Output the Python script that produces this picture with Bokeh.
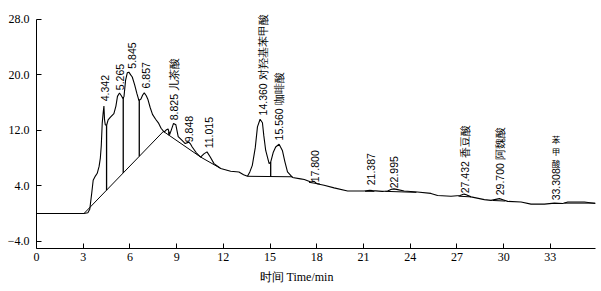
import numpy as np
from bokeh.plotting import figure
from bokeh.models import Range1d, FixedTicker, CustomJSTickFormatter, Title
from bokeh.core.properties import value
from bokeh.embed import file_html
from bokeh.resources import INLINE

# ---- chromatogram trace (time in min, signal) ----
t = [0, 3.05, 3.3, 3.42, 3.55, 3.64, 3.78, 3.9, 4.02, 4.1, 4.16, 4.22, 4.28, 4.33, 4.37,
     4.42, 4.5, 4.6, 4.75, 4.97, 5.1, 5.2, 5.33, 5.45, 5.55, 5.62, 5.72, 5.83, 5.93, 6.05,
     6.15, 6.3, 6.45, 6.58, 6.7, 6.82, 6.92, 7.05, 7.15, 7.3, 7.45, 7.65, 7.85, 8.0, 8.2,
     8.35, 8.45, 8.55, 8.65, 8.8, 8.95, 9.1, 9.35, 9.55, 9.78, 9.9, 10.0, 10.25, 10.54,
     10.75, 10.95, 11.15, 11.4, 11.83, 12.47, 13.0, 13.3, 13.55, 13.7, 13.86, 14.05, 14.19,
     14.36, 14.51, 14.6, 14.72, 14.94, 15.04, 15.2, 15.36, 15.58, 15.79, 15.95, 16.12,
     16.44, 16.96, 17.2, 17.62, 17.83, 18.0, 18.47, 19.11, 19.98, 21.04, 21.4, 21.58, 22.2,
     22.55, 22.8, 22.96, 23.2, 23.61, 24.46, 25.33, 25.76, 26.62, 27.2, 27.46, 27.6, 27.91,
     28.76, 29.19, 29.73, 30.0, 30.26, 31.12, 31.76, 32.62, 33.26, 33.8, 34.12, 35.19, 35.9]
signal = [0, 0, 0.1, 0.6, 3.0, 4.8, 5.4, 5.8, 6.8, 8.0, 9.8, 13.0, 14.5, 15.5, 13.5,
          12.8, 12.7, 13.5, 13.9, 14.4, 15.5, 16.9, 17.4, 17.0, 16.6, 16.9, 19.2, 20.3, 20.4, 20.0,
          19.7, 18.6, 17.3, 16.3, 16.5, 17.1, 17.4, 17.0, 16.5, 15.3, 14.3, 13.6, 13.0, 12.3, 11.75,
          12.1, 12.2, 11.4, 12.0, 13.0, 12.8, 11.1, 10.55, 10.1, 10.3, 10.0, 9.6, 8.8, 8.15,
          8.6, 8.9, 8.2, 7.2, 6.5, 6.1, 6.0, 5.6, 5.37, 6.0, 6.95, 9.5, 12.5,
          13.6, 13.1, 11.2, 9.1, 7.2, 7.4, 8.8, 9.6, 10.0, 9.1, 7.5, 6.0,
          5.2, 5.0, 4.9, 4.55, 4.65, 4.3, 4.07, 3.7, 3.25, 3.25, 3.35, 3.3, 3.2,
          3.25, 3.5, 3.55, 3.45, 3.25, 3.1, 2.9, 2.6, 2.5, 2.6, 2.8, 2.7, 2.4,
          2.0, 1.9, 2.15, 1.95, 1.75, 1.65, 1.35, 1.35, 1.5, 1.45, 1.65, 1.65, 1.45]

# ---- integration baselines (start/end time, start/end signal) ----
bl_x0 = [3.05, 8.15, 10.54, 13.55, 17.5, 21.1, 22.4, 27.1, 29.3, 33.9]
bl_y0 = [0.0, 11.85, 8.15, 5.37, 4.5, 3.2, 3.2, 2.5, 1.88, 1.5]
bl_x1 = [8.15, 10.54, 11.75, 16.44, 18.2, 21.7, 24.4, 27.9, 30.1, 35.9]
bl_y1 = [11.85, 8.15, 6.6, 5.3, 4.25, 3.2, 3.05, 2.4, 1.8, 1.5]

# ---- peak drop lines (time) ----
drop_t = [4.5, 5.57, 6.6, 8.5, 15.04]

# ---- peak labels ----
label_x = [4.37, 5.34, 6.11, 7.01, 8.81, 9.77, 11.06, 14.53, 15.56, 17.87, 21.47, 22.95,
           27.51, 29.77, 33.37]
label_y = [16.2, 17.8, 20.9, 18.05, 13.45, 10.3, 9.4, 14.15, 10.55, 4.5, 4.07, 3.64,
           2.92, 2.63, 1.9]
label_text = ["4.342", "5.265", "5.845", "6.857", "8.825 儿茶酸", "9.848", "11.015",
              "14.360 对羟基苯甲酸", "15.560 咖啡酸", "17.800", "21.387", "22.995",
              "27.432 香豆酸", "29.700 阿魏酸", "33.308"]
stack_chars = ["苯", "甲", "酸"]
stack_y = [10.7, 8.97, 7.24]

x_ticks = [0, 3, 6, 9, 12, 15, 18, 21, 24, 27, 30, 33]
y_ticks = [-4, 4, 12, 20, 28]
x_title = "时间  Time/min"

p = figure(width=601, height=291, output_backend="svg", toolbar_location=None,
           x_range=Range1d(0, 35.9), y_range=Range1d(-5.05, 29.585),
           min_border_left=36, min_border_right=6, min_border_top=8,
           min_border_bottom=43)
p.outline_line_color = None
p.grid.visible = False
p.background_fill_color = "white"
p.border_fill_color = "white"

ax = p.xaxis[0]
ax.ticker = FixedTicker(ticks=x_ticks)
ax.major_tick_in = 5
ax.major_tick_out = 0
ax.minor_tick_line_color = None
ax.major_label_standoff = 4
ax.major_label_text_font = "Liberation Serif"
ax.major_label_text_font_size = "12px"
ax.major_label_text_color = "black"
ax.axis_line_color = "black"

ay = p.yaxis[0]
ay.ticker = FixedTicker(ticks=y_ticks)
ay.bounds = (-5.05, 28.0)
ay.formatter = CustomJSTickFormatter(code="return (tick < 0 ? '\u2212' : '') + Math.abs(tick).toFixed(1);")
ay.major_tick_in = 5
ay.major_tick_out = 0
ay.minor_tick_line_color = None
ay.major_label_standoff = 7
ay.major_label_text_font = "Liberation Serif"
ay.major_label_text_font_size = "12px"
ay.major_label_text_color = "black"
ay.axis_line_color = "black"

p.add_layout(Title(text=x_title, align="left", offset=223, standoff=8,
                   text_font="Liberation Serif", text_font_size="12px",
                   text_font_style="normal", text_color="black"), "below")

# trace
p.line(t, signal, line_color="black", line_width=1.1)

# baselines
p.segment(bl_x0, bl_y0, bl_x1, bl_y1, line_color="black", line_width=1)

# drop lines
def base_at(x):
    for x0, y0, x1, y1 in zip(bl_x0, bl_y0, bl_x1, bl_y1):
        if x0 <= x <= x1:
            return y0 + (y1 - y0) * (x - x0) / (x1 - x0)
    return 0.0

drop_bottom = [base_at(x) for x in drop_t]
drop_top = list(np.interp(drop_t, t, signal))
p.segment(drop_t, drop_bottom, drop_t, drop_top, line_color="black", line_width=1.3)

# peak labels
p.text(label_x, label_y, text=label_text, angle=np.pi / 2, text_align="left",
       text_baseline="middle", text_font=value("Liberation Sans"),
       text_font_size="10.5px", text_color="black")
p.text([label_x[-1]] * len(stack_chars), stack_y, text=stack_chars,
       text_align="center", text_baseline="middle", text_font=value("Noto Sans CJK SC"),
       text_font_size="8.5px", text_color="black")

open("out.html", "w").write(file_html(p, INLINE))
